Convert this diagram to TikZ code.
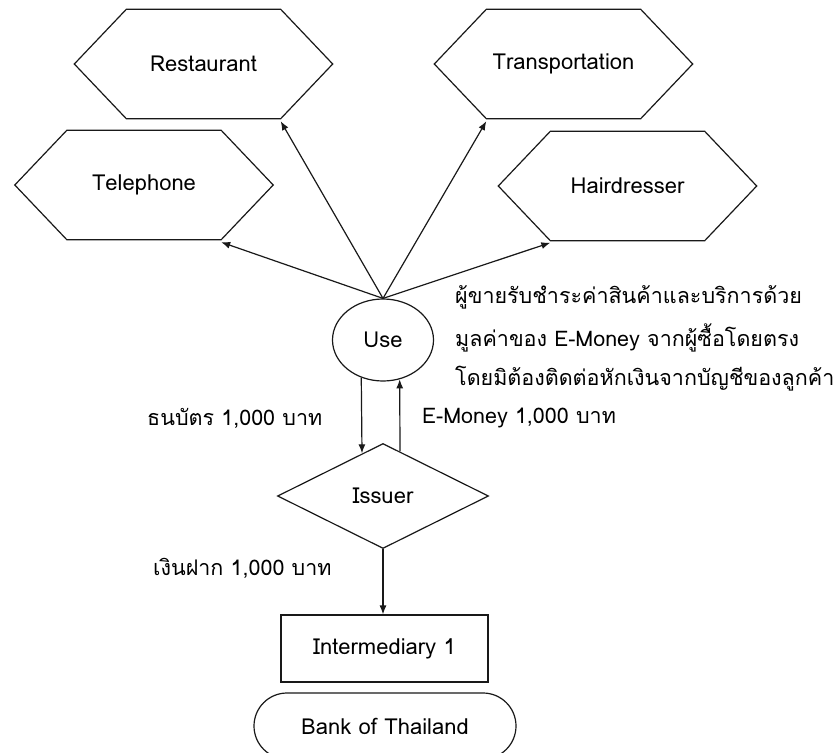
\documentclass[tikz,border=0pt]{standalone}
\usepackage{fontspec}
\setmainfont[Script=Thai]{Loma}
\usetikzlibrary{shapes.geometric,shapes.misc,arrows.meta}

\tikzset{
  ink/.style={draw=black!90, line width=1.2pt},
  arr/.style={ink, -{Latex[length=9pt,width=7pt]}},
  boxfont/.style={font=\fontsize{22}{24}\selectfont},
  hexbox/.style={boxfont, minimum width=258pt, minimum height=109pt, inner sep=0pt},
  lbl/.style={font=\fontsize{21.5}{24}\selectfont, inner sep=0pt},
  usebox/.style={ink, boxfont, ellipse, minimum width=101pt, minimum height=82pt, inner sep=0pt},
  issuerbox/.style={ink, boxfont, diamond, minimum width=211pt, minimum height=105pt, inner sep=0pt},
  interbox/.style={ink, boxfont, rectangle, minimum width=207pt, minimum height=67pt, inner sep=0pt},
  bankbox/.style={ink, boxfont, rounded rectangle, minimum width=262pt, minimum height=66pt, inner sep=0pt},
}

\begin{document}
\begin{tikzpicture}[x=1pt, y=-1pt]
\clip (0,0) rectangle (837,752);
\fill[white] (0,0) rectangle (837,752);

% merchant categories
\node[hexbox] (rest)  at (203.5,64)  {Restaurant};
\node[hexbox] (trans) at (563.5,64)  {Transportation};
\node[hexbox] (tel)   at (144,185)   {Telephone};
\node[hexbox] (hair)  at (627.5,186)   {Hairdresser};
\foreach \n/\dy in {rest/2.5,trans/2.5,tel/2.5,hair/2}
  \draw[ink, yshift=-\dy pt] ([xshift=52pt]\n.north west) -- ([xshift=-52pt]\n.north east) -- (\n.east)
    -- ([xshift=-52pt]\n.south east) -- ([xshift=52pt]\n.south west) -- (\n.west) -- cycle;

% hexagon corners that the spending arrows point to
\coordinate (tel-tip)   at ([xshift=-52pt,yshift=-2.5pt]tel.south east);
\coordinate (rest-tip)  at ([xshift=-52pt,yshift=-2.5pt]rest.south east);
\coordinate (trans-tip) at ([xshift=52pt,yshift=-2.5pt]trans.south west);
\coordinate (hair-tip)  at ([xshift=52pt,yshift=-2pt]hair.south west);

% flow nodes
\node[usebox] (use) at (383,340) {Use};
\node[issuerbox] (iss) at (383,496) {Issuer};
\node[interbox] (inter) at (384.5,648.5) {Intermediary 1};
\node[bankbox] (bank) at (385,726) {Bank of Thailand};

% spending arrows
\draw[arr] (use.north) -- (tel-tip);
\draw[arr] (use.north) -- (rest-tip);
\draw[arr] (use.north) -- (trans-tip);
\draw[arr] (use.north) -- (hair-tip);

% exchange between user and issuer
\draw[arr] (use.240.6) -- ([xshift=-21pt,yshift=-10.4pt]iss.north);
\draw[arr] ([xshift=17pt,yshift=-8.5pt]iss.north) -- (use.293.8);
\draw[arr] (iss.south) -- (iss.south |- inter.north);

% labels
\node[lbl, anchor=west] (cash) at (147,418) {ธนบัตร 1,000 บาท};
\node[lbl, anchor=west] (emoney) at (422,418) {E-Money 1,000 บาท};
\node[lbl, anchor=west] (deposit) at (153,568) {เงินฝาก 1,000 บาท};
\node[lbl, anchor=west] (note1) at (455,297) {ผู้ขายรับชำระค่าสินค้าและบริการด้วย};
\node[lbl, anchor=west] (note2) at (455,338) {มูลค่าของ E-Money จากผู้ซื้อโดยตรง};
\node[lbl, anchor=west] (note3) at (455,379) {โดยมิต้องติดต่อหักเงินจากบัญชีของลูกค้า};
\end{tikzpicture}
\end{document}
